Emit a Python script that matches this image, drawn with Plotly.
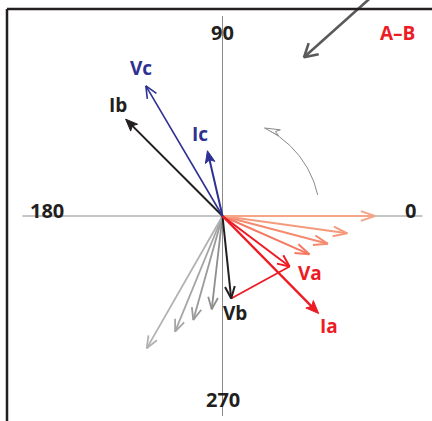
import numpy as np
import plotly.graph_objects as go

# ---------------- data (phasor magnitudes in chart units, angles in degrees) ----------------
main_names = ["Vc", "Ib", "Ic", "Va", "Ia", "Vb"]
main_mags = [151, 137, 67, 84, 137, 83]
main_angles = [120.5, 135, 103, -37, -45.4, -84]

rot_a_mags = [95, 109, 126, 152.5]          # Va rotating toward 0
rot_a_angles = [-23.8, -14.8, -7.9, 0]
rot_b_mags = [94, 108, 125, 152.5]          # Vb rotating
rot_b_angles = [263.4, 254.3, 247.7, 240.2]

axis_labels = ["0", "90", "180", "270"]
axis_angles = [0, 90, 180, 270]

arc_radius = 97.5
arc_angles = [12.5, 64.5]

fault_label = "A–B"

# ---------------- styles ----------------
BLUE = "#2e3192"
RED = "#ed1c24"
BLACK = "#231f20"
SALMON = ["#f47a62", "#f48a6e", "#f59a7c", "#f6a688"]
GRAYS = ["#8e8e8e", "#9a9a9a", "#a5a5a5", "#b2b2b2"]
FONT = "Open Sans"

styles = {
    "Vc": dict(color=BLUE, width=1.6, head="open", L=13, half=24),
    "Ib": dict(color=BLACK, width=2.0, head="filled", L=13, half=22),
    "Ic": dict(color=BLUE, width=2.0, head="filled", L=13, half=22),
    "Va": dict(color=RED, width=2.0, head="open", L=13, half=24),
    "Ia": dict(color=RED, width=2.4, head="filled", L=14, half=22),
    "Vb": dict(color=BLACK, width=2.0, head="open", L=13, half=22),
}
label_offsets = {
    "Vc": (-5, 17.5), "Ib": (-8, 14), "Ic": (-7, 17),
    "Va": (20, -6), "Ia": (10, -12), "Vb": (3.5, -14.5),
}
label_colors = {"Vc": BLUE, "Ib": BLACK, "Ic": BLUE, "Va": RED, "Ia": RED, "Vb": BLACK}


def tip(m, a):
    r = np.radians(a)
    return m * np.cos(r), m * np.sin(r)


def open_head(x, y, ang, L, half):
    back = np.radians(ang + 180)
    h = np.radians(half)
    xs = [x + L * np.cos(back + h), x, x + L * np.cos(back - h)]
    ys = [y + L * np.sin(back + h), y, y + L * np.sin(back - h)]
    return xs, ys


def filled_head(x, y, ang, L, half):
    back = np.radians(ang + 180)
    h = np.radians(half)
    xs = [x, x + L * np.cos(back + h), x + 0.72 * L * np.cos(back), x + L * np.cos(back - h), x]
    ys = [y, y + L * np.sin(back + h), y + 0.72 * L * np.sin(back), y + L * np.sin(back - h), y]
    return xs, ys


fig = go.Figure()


def add_phasor(m, a, color, width, head, L, half):
    x, y = tip(m, a)
    if head == "filled":
        sx, sy = tip(m - 0.6 * L, a)
    else:
        sx, sy = x, y
    fig.add_trace(go.Scatter(x=[0, sx], y=[0, sy], mode="lines",
                             line=dict(color=color, width=width), hoverinfo="skip"))
    if head == "open":
        hx, hy = open_head(x, y, a, L, half)
        fig.add_trace(go.Scatter(x=hx, y=hy, mode="lines",
                                 line=dict(color=color, width=width), hoverinfo="skip"))
    else:
        hx, hy = filled_head(x, y, a, L, half)
        fig.add_trace(go.Scatter(x=hx, y=hy, mode="lines", fill="toself", fillcolor=color,
                                 line=dict(color=color, width=1), hoverinfo="skip"))


# axes lines
AX = 200
fig.add_trace(go.Scatter(x=[-AX, AX], y=[0, 0], mode="lines",
                         line=dict(color="#8a8a8a", width=1), hoverinfo="skip"))
fig.add_trace(go.Scatter(x=[0, 0], y=[-AX, AX], mode="lines",
                         line=dict(color="#8a8a8a", width=1), hoverinfo="skip"))

# rotation arc
t = np.linspace(arc_angles[0], arc_angles[1] - 4, 40)
fig.add_trace(go.Scatter(x=arc_radius * np.cos(np.radians(t)), y=arc_radius * np.sin(np.radians(t)),
                         mode="lines", line=dict(color="#8a8a8a", width=1), hoverinfo="skip"))
ex, ey = tip(arc_radius, arc_angles[1])
tan_ang = arc_angles[1] + 90 + 8
hx, hy = filled_head(ex, ey, tan_ang, 16, 11)
fig.add_trace(go.Scatter(x=hx, y=hy, mode="lines", fill="toself", fillcolor="white",
                         line=dict(color="#8a8a8a", width=1), hoverinfo="skip"))

# rotating phasors
for m, a, c in zip(rot_b_mags, rot_b_angles, GRAYS):
    add_phasor(m, a, c, 1.8, "open", 13, 22)
for m, a, c in zip(rot_a_mags, rot_a_angles, SALMON):
    add_phasor(m, a, c, 2.0, "open", 15, 19)

# line voltage A-B segment (Vb tip to Va tip)
va = tip(main_mags[main_names.index("Va")], main_angles[main_names.index("Va")])
vb = tip(main_mags[main_names.index("Vb")], main_angles[main_names.index("Vb")])
fig.add_trace(go.Scatter(x=[vb[0], va[0]], y=[vb[1], va[1]], mode="lines",
                         line=dict(color=RED, width=1.8), hoverinfo="skip"))

# main phasors
for name in ["Vb", "Va", "Ia", "Ib", "Vc", "Ic"]:
    i = main_names.index(name)
    s = styles[name]
    add_phasor(main_mags[i], main_angles[i], s["color"], s["width"], s["head"], s["L"], s["half"])

# big pointer arrow from outside the frame
ptip = (81.5, 158.7)
pdir = 221.8
tail = (ptip[0] - 140 * np.cos(np.radians(pdir)), ptip[1] - 140 * np.sin(np.radians(pdir)))
fig.add_trace(go.Scatter(x=[tail[0], ptip[0]], y=[tail[1], ptip[1]], mode="lines",
                         line=dict(color="#5a5a5a", width=2.6), hoverinfo="skip"))
hx, hy = open_head(ptip[0], ptip[1], pdir, 15, 30)
fig.add_trace(go.Scatter(x=hx, y=hy, mode="lines",
                         line=dict(color="#5a5a5a", width=2.6), hoverinfo="skip"))

annotations = []
for name in main_names:
    i = main_names.index(name)
    x, y = tip(main_mags[i], main_angles[i])
    dx, dy = label_offsets[name]
    annotations.append(dict(x=x + dx, y=y + dy, text=name, showarrow=False,
                            font=dict(family=FONT, size=19, color=label_colors[name], weight="bold"),
                            xanchor="center", yanchor="middle"))

label_r = {"0": 188, "90": 183.5, "180": 176, "270": 183}
for lab, ang in zip(axis_labels, axis_angles):
    x, y = tip(label_r[lab], ang)
    if ang in (0, 180):
        y += 6
    annotations.append(dict(x=x, y=y, text=lab, showarrow=False,
                            font=dict(family=FONT, size=20, color=BLACK, weight="bold"),
                            xanchor="center", yanchor="middle"))

annotations.append(dict(x=174.5, y=183, text=fault_label, showarrow=False,
                        font=dict(family=FONT, size=19, color=RED, weight="bold"),
                        xanchor="center", yanchor="middle"))

shapes = [
    dict(type="line", xref="x", yref="y", x0=-215.5, y0=207, x1=215, y1=207,
         line=dict(color=BLACK, width=2.5)),
    dict(type="line", xref="x", yref="y", x0=-215.5, y0=207, x1=-215.5, y1=-210,
         line=dict(color=BLACK, width=2.5)),
]

fig.update_layout(
    width=432, height=421, autosize=False,
    margin=dict(l=0, r=0, t=0, b=0),
    paper_bgcolor="white", plot_bgcolor="white",
    showlegend=False,
    xaxis=dict(range=[-222.5, 209.5], visible=False, fixedrange=True),
    yaxis=dict(range=[-205, 216], visible=False, fixedrange=True),
    annotations=annotations, shapes=shapes,
)

fig.write_html("out.html", config={"displayModeBar": False},
               post_script="document.body.style.margin='0';document.body.style.overflow='hidden';")
